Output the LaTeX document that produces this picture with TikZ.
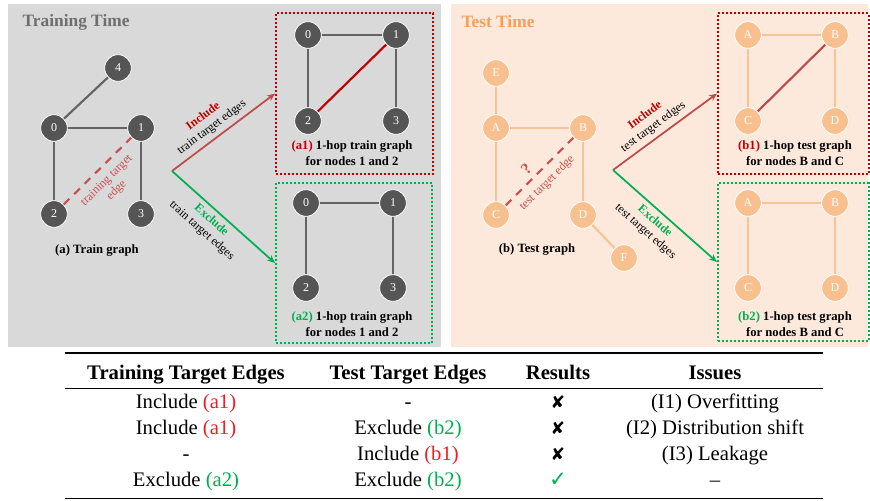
\documentclass[tikz,border=0pt]{standalone}
\usepackage{fontspec}
\setmainfont{Liberation Serif}
\newfontfamily\symbfont{DejaVu Sans}
\usetikzlibrary{arrows.meta, positioning}
\definecolor{traingray}{RGB}{217, 217, 217}
\definecolor{testpeach}{RGB}{252, 233, 219}
\definecolor{nodegray}{RGB}{85, 85, 85}
\definecolor{edgegray}{RGB}{100, 100, 100}
\definecolor{nodepeach}{RGB}{248, 192, 142}
\definecolor{edgepeach}{RGB}{246, 196, 150}
\definecolor{titlegray}{RGB}{110, 110, 110}
\definecolor{titleorange}{RGB}{244, 160, 90}
\definecolor{targetred}{RGB}{200, 80, 80}
\definecolor{incred}{RGB}{192, 0, 0}
\definecolor{excgreen}{RGB}{0, 176, 80}
\definecolor{arrred}{RGB}{190, 75, 72}
\definecolor{tabred}{RGB}{235, 30, 36}

\begin{document}
\begin{tikzpicture}[x=0.75pt, y=-0.75pt,
    gnode/.style={circle, fill=#1, draw=white, line width=0.6pt, minimum size=20pt, inner sep=0pt, text=white, font=\fontsize{9}{9}\selectfont},
    tedge/.style={draw=#1, line width=1.6pt},
    targetedge/.style={draw=targetred, line width=1.6pt, dash pattern=on 6pt off 5pt},
    hopbox/.style={rectangle, draw=#1, line width=1.6pt, dash pattern=on 1.5pt off 1.5pt, anchor=north west, inner sep=0pt},
    arr/.style={-{Stealth[length=6pt, width=5pt]}, line width=1.3pt, draw=#1},
    paneltitle/.style={font=\bfseries\fontsize{13}{13}\selectfont, text=#1, anchor=west},
    capt/.style={font=\bfseries\fontsize{9.5}{12.5}\selectfont, align=center},
    lbl/.style={font=\fontsize{9}{10.5}\selectfont, align=center},
    headcell/.style={font=\bfseries\fontsize{15.5}{15.5}\selectfont, anchor=base},
    bodycell/.style={font=\fontsize{15.5}{15.5}\selectfont, anchor=base},
    markcell/.style={font=\symbfont\fontsize{13}{13}\selectfont, anchor=base}
]
\useasboundingbox (0,0) rectangle (870,500);

% Panels
\fill[traingray] (8,4) rectangle (441,347);
\fill[testpeach] (451,4) rectangle (868,347);
\node[paneltitle=titlegray] (traintitle) at (18,22) {Training Time};
\node[paneltitle=titleorange] (testtitle) at (457,22) {Test Time};

% Train graph
\node[gnode=nodegray] (t4) at (118,68) {4};
\node[gnode=nodegray] (t0) at (54,128) {0};
\node[gnode=nodegray] (t1) at (141,128) {1};
\node[gnode=nodegray] (t2) at (54,214) {2};
\node[gnode=nodegray] (t3) at (141,214) {3};
\draw[tedge=edgegray] (t0) -- (t4);
\draw[tedge=edgegray] (t0) -- (t1);
\draw[tedge=edgegray] (t0) -- (t2);
\draw[tedge=edgegray] (t1) -- (t3);
\draw[targetedge] (t2) -- node[sloped, below=2pt, lbl, text=targetred] {training target\\edge} (t1);
\node[capt] (traincap) at (97,250) {(a)~Train graph};

% 1-hop train graphs
\node[hopbox=incred, minimum width=117.75pt, minimum height=120.75pt] (a1box) at (275,12) {};
\node[gnode=nodegray] (a1n0) at (308,35) {0};
\node[gnode=nodegray] (a1n1) at (396,35) {1};
\node[gnode=nodegray] (a1n2) at (308,121) {2};
\node[gnode=nodegray] (a1n3) at (396,121) {3};
\draw[tedge=edgegray] (a1n0) -- (a1n1);
\draw[tedge=edgegray] (a1n0) -- (a1n2);
\draw[tedge=edgegray] (a1n1) -- (a1n3);
\draw[tedge=incred] (a1n2) -- (a1n1);
\node[capt] (a1cap) at (352,153) {\textcolor{incred}{(a1)} 1-hop train graph\\for nodes 1 and 2};

\node[hopbox=excgreen, minimum width=117pt, minimum height=120pt] (a2box) at (275,182) {};
\node[gnode=nodegray] (a2n0) at (306,203) {0};
\node[gnode=nodegray] (a2n1) at (393,203) {1};
\node[gnode=nodegray] (a2n2) at (306,288) {2};
\node[gnode=nodegray] (a2n3) at (393,288) {3};
\draw[tedge=edgegray] (a2n0) -- (a2n1);
\draw[tedge=edgegray] (a2n0) -- (a2n2);
\draw[tedge=edgegray] (a2n1) -- (a2n3);
\node[capt] (a2cap) at (352,324) {\textcolor{excgreen}{(a2)} 1-hop train graph\\for nodes 1 and 2};

% Train arrows
\coordinate (trainsplit) at (172,171);
\draw[arr=arrred] (trainsplit) -- node[sloped, above, lbl, pos=0.45] {\textcolor{incred}{\textbf{Include}}\\train target edges} (a1box.west);
\draw[arr=excgreen] (trainsplit) -- node[sloped, below, lbl, pos=0.45] {\textcolor{excgreen}{\textbf{Exclude}}\\train target edges} (a2box.west);

% Test graph
\node[gnode=nodepeach] (sE) at (496,73) {E};
\node[gnode=nodepeach] (sA) at (496,128) {A};
\node[gnode=nodepeach] (sB) at (583,128) {B};
\node[gnode=nodepeach] (sC) at (496,215) {C};
\node[gnode=nodepeach] (sD) at (583,215) {D};
\node[gnode=nodepeach] (sF) at (624,258) {F};
\draw[tedge=edgepeach] (sE) -- (sA);
\draw[tedge=edgepeach] (sA) -- (sB);
\draw[tedge=edgepeach] (sA) -- (sC);
\draw[tedge=edgepeach] (sB) -- (sD);
\draw[tedge=edgepeach] (sD) -- (sF);
\draw[targetedge] (sC) -- node[sloped, above, pos=0.42, font=\bfseries\fontsize{12}{12}\selectfont, text=targetred] {?}
    node[sloped, below=2pt, lbl, pos=0.47, text=targetred] {test target edge} (sB);
\node[capt] (testcap) at (537,249) {(b)~Test graph};

% 1-hop test graphs
\node[hopbox=incred, minimum width=113pt, minimum height=120.75pt] (b1box) at (717,12) {};
\node[gnode=nodepeach] (b1A) at (748,35) {A};
\node[gnode=nodepeach] (b1B) at (835,35) {B};
\node[gnode=nodepeach] (b1C) at (748,121) {C};
\node[gnode=nodepeach] (b1D) at (835,121) {D};
\draw[tedge=edgepeach] (b1A) -- (b1B);
\draw[tedge=edgepeach] (b1A) -- (b1C);
\draw[tedge=edgepeach] (b1B) -- (b1D);
\draw[tedge=arrred] (b1C) -- (b1B);
\node[capt] (b1cap) at (795,153) {\textcolor{incred}{(b1)} 1-hop test graph\\for nodes B and C};

\node[hopbox=excgreen, minimum width=113pt, minimum height=118.5pt] (b2box) at (717,182) {};
\node[gnode=nodepeach] (b2A) at (748,203) {A};
\node[gnode=nodepeach] (b2B) at (835,203) {B};
\node[gnode=nodepeach] (b2C) at (748,288) {C};
\node[gnode=nodepeach] (b2D) at (835,288) {D};
\draw[tedge=edgepeach] (b2A) -- (b2B);
\draw[tedge=edgepeach] (b2A) -- (b2C);
\draw[tedge=edgepeach] (b2B) -- (b2D);
\node[capt] (b2cap) at (795,324) {\textcolor{excgreen}{(b2)} 1-hop test graph\\for nodes B and C};

% Test arrows
\coordinate (testsplit) at (613,170);
\draw[arr=arrred] (testsplit) -- node[sloped, above, lbl, pos=0.45] {\textcolor{incred}{\textbf{Include}}\\test target edges} (b1box.west);
\draw[arr=excgreen] (testsplit) -- node[sloped, below, lbl, pos=0.47] {\textcolor{excgreen}{\textbf{Exclude}}\\test target edges} (b2box.west);

% Table
\draw[line width=1.2pt] (65,353) -- (823,353);
\draw[line width=0.6pt] (65,388) -- (823,388);
\draw[line width=1.2pt] (65,498.5) -- (823,498.5);
\node[headcell] (h1) at (186,379.5) {Training Target Edges};
\node[headcell] (h2) at (408,379.5) {Test Target Edges};
\node[headcell] (h3) at (558,379.5) {Results};
\node[headcell] (h4) at (715,379.5) {Issues};

\node[bodycell] (r1c1) at (186,408.5) {Include \textcolor{tabred}{(a1)}};
\node[bodycell] (r1c2) at (408,408.5) {-};
\node[markcell] (r1c3) at (558,408.5) {✘};
\node[bodycell] (r1c4) at (715,408.5) {(I1) Overfitting};

\node[bodycell] (r2c1) at (186,434.5) {Include \textcolor{tabred}{(a1)}};
\node[bodycell] (r2c2) at (408,434.5) {Exclude \textcolor{excgreen}{(b2)}};
\node[markcell] (r2c3) at (558,434.5) {✘};
\node[bodycell] (r2c4) at (715,434.5) {(I2) Distribution shift};

\node[bodycell] (r3c1) at (186,460.5) {-};
\node[bodycell] (r3c2) at (408,460.5) {Include \textcolor{tabred}{(b1)}};
\node[markcell] (r3c3) at (558,460.5) {✘};
\node[bodycell] (r3c4) at (715,460.5) {(I3) Leakage};

\node[bodycell] (r4c1) at (186,486.5) {Exclude \textcolor{excgreen}{(a2)}};
\node[bodycell] (r4c2) at (408,486.5) {Exclude \textcolor{excgreen}{(b2)}};
\node[markcell, font=\symbfont\fontsize{16}{16}\selectfont, text=excgreen] (r4c3) at (558,486.5) {✓};
\node[bodycell] (r4c4) at (715,486.5) {--};

\end{tikzpicture}
\end{document}
